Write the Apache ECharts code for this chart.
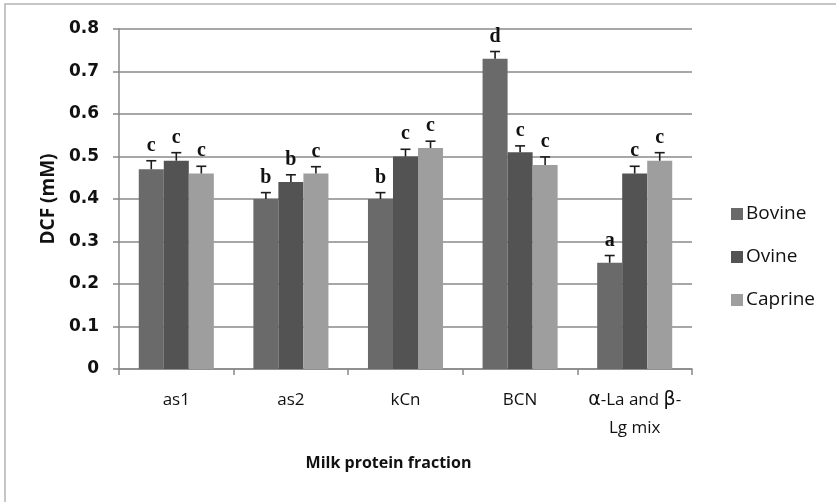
<!DOCTYPE html>
<html>
<head>
<meta charset="utf-8">
<script src="https://cdn.jsdelivr.net/npm/echarts@6/dist/echarts.min.js"></script>
<style>
  html, body { margin: 0; padding: 0; background: #fff; }
  #chart { width: 836px; height: 502px; }
</style>
</head>
<body>
<div id="chart"></div>
<script>
// Milk protein fractions on the x axis
var categories = ['as1', 'as2', 'kCn', 'BCN', 'α-La and β-\nLg mix'];
var seriesNames = ['Bovine', 'Ovine', 'Caprine'];

// Mean DCF (mM) per species
var bovine  = [0.47, 0.40, 0.40, 0.73, 0.25];
var ovine   = [0.49, 0.44, 0.50, 0.51, 0.46];
var caprine = [0.46, 0.46, 0.52, 0.48, 0.49];

// Standard error (upper half drawn)
var bovineErr  = [0.020, 0.015, 0.015, 0.017, 0.017];
var ovineErr   = [0.019, 0.017, 0.017, 0.015, 0.017];
var caprineErr = [0.017, 0.016, 0.016, 0.019, 0.019];

// Significance letters
var bovineSig  = ['c', 'b', 'b', 'd', 'a'];
var ovineSig   = ['c', 'b', 'c', 'c', 'c'];
var caprineSig = ['c', 'c', 'c', 'c', 'c'];

// Y axis ticks
var yTicks = [0, 0.1, 0.2, 0.3, 0.4, 0.5, 0.6, 0.7, 0.8];

var colors = ['#6a6a6a', '#535353', '#9e9e9e'];
var values = [bovine, ovine, caprine];
var errors = [bovineErr, ovineErr, caprineErr];
var sigs = [bovineSig, ovineSig, caprineSig];

var catGap = 0.345; // share of each category left empty

function errorSeries(idx) {
  var data = values[idx].map(function (v, i) { return [i, v, errors[idx][i], sigs[idx][i]]; });
  return {
    type: 'custom',
    name: seriesNames[idx] + ' error',
    z: 5,
    data: data,
    encode: { x: 0, y: 1 },
    renderItem: function (params, api) {
      var ci = api.value(0);
      var v = api.value(1);
      var e = api.value(2);
      var band = api.size([1, 0])[0];
      var bw = band * (1 - catGap) / 3;
      var center = api.coord([ci, v]);
      var x = center[0] + (idx - 1) * bw;
      var yTop = api.coord([ci, v + e])[1];
      var yBar = center[1];
      var cap = 5;
      var st = { stroke: '#1c1c1c', lineWidth: 1.6 };
      return {
        type: 'group',
        children: [
          { type: 'line', shape: { x1: x, y1: yBar, x2: x, y2: yTop }, style: st },
          { type: 'line', shape: { x1: x - cap, y1: yTop, x2: x + cap, y2: yTop }, style: st },
          {
            type: 'text',
            style: {
              x: x, y: yTop - 5,
              text: api.value(3),
              fill: '#111',
              font: 'bold 20px "Liberation Serif", "DejaVu Serif", serif',
              textAlign: 'center',
              textVerticalAlign: 'bottom'
            }
          }
        ]
      };
    }
  };
}

var barSeries = seriesNames.map(function (n, idx) {
  return {
    name: n,
    type: 'bar',
    data: values[idx],
    barGap: '0%',
    barCategoryGap: (catGap * 100) + '%',
    itemStyle: { color: colors[idx] },
    z: 2
  };
});

var option = {
  animation: false,
  backgroundColor: '#fff',
  color: colors,
  graphic: [{
    type: 'rect',
    shape: { x: 5, y: 4, width: 1000, height: 1000 },
    style: { fill: 'none', stroke: '#b4b4b4', lineWidth: 1.5 },
    silent: true
  }],
  grid: { left: 119, right: 144, top: 29, bottom: 133 },
  legend: {
    orient: 'vertical',
    left: 726,
    top: 198,
    itemWidth: 12,
    itemHeight: 12,
    itemGap: 21,
    icon: 'rect',
    data: seriesNames,
    textStyle: { fontFamily: 'Open Sans', fontSize: 19, color: '#111', lineHeight: 22, padding: [0, 0, 0, -2] }
  },
  xAxis: {
    type: 'category',
    data: categories,
    name: 'Milk protein fraction',
    nameLocation: 'middle',
    nameGap: 86,
    nameTextStyle: {
      fontFamily: 'Open Sans', fontWeight: 'bold', fontSize: 16, color: '#111',
      padding: [0, 34, 0, 0]
    },
    axisLine: { lineStyle: { color: '#888', width: 1.5 } },
    axisTick: { show: true, length: 6, lineStyle: { color: '#888', width: 1.5 } },
    axisLabel: {
      interval: 0,
      margin: 17,
      fontFamily: 'Open Sans',
      fontSize: 17,
      lineHeight: 28,
      color: '#111',
      formatter: function (v) {
        return v.replace('α', '{g|α}').replace('β', '{g|β}');
      },
      rich: {
        g: { fontFamily: 'DejaVu Sans', fontSize: 19, lineHeight: 28, color: '#111' }
      }
    }
  },
  yAxis: {
    type: 'value',
    min: 0,
    max: 0.8,
    interval: 0.1,
    name: 'DCF (mM)',
    nameLocation: 'middle',
    nameGap: 60,
    nameTextStyle: { fontFamily: 'Open Sans', fontWeight: 'bold', fontSize: 19, color: '#111' },
    axisLine: { show: true, lineStyle: { color: '#888', width: 1.5 } },
    axisTick: { show: true, length: 6, lineStyle: { color: '#888', width: 1.5 } },
    splitLine: { lineStyle: { color: '#8a8a8a', width: 1.5 } },
    axisLabel: {
      margin: 20,
      fontFamily: 'DejaVu Sans',
      fontWeight: 'bold',
      fontSize: 17,
      color: '#111',
      formatter: function (v) {
        var t = yTicks.filter(function (k) { return Math.abs(k - v) < 1e-9; })[0];
        return t === 0 ? '0' : String(Math.round(t * 10) / 10);
      }
    }
  },
  series: barSeries.concat([errorSeries(0), errorSeries(1), errorSeries(2)])
};

var chart = echarts.init(document.getElementById('chart'), null, { renderer: 'canvas' });
chart.setOption(option);
</script>
</body>
</html>
